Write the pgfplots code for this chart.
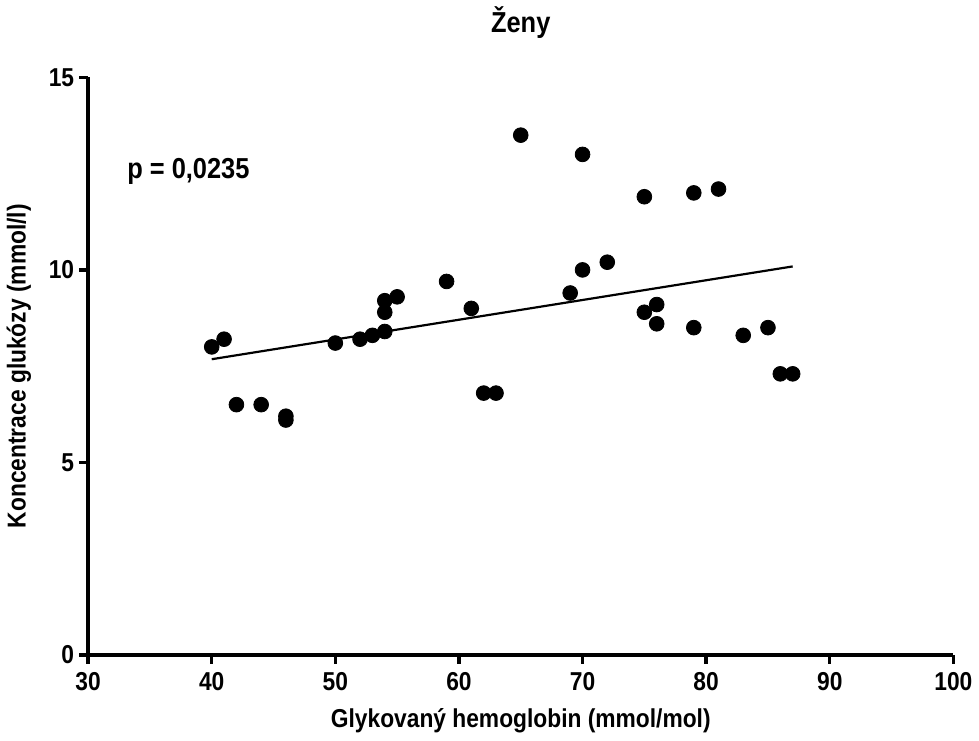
\documentclass[border=0pt]{standalone}
\usepackage{pgfplots}
\pgfplotsset{compat=1.18}
\usepackage{fontspec}
\setmainfont[FakeStretch=0.88]{Liberation Sans}
\begin{document}
\begin{tikzpicture}
\begin{axis}[
    scale only axis,
    width=434.5pt, height=290pt,
    xmin=30, xmax=100, ymin=0, ymax=15,
    axis x line*=bottom, axis y line*=left,
    axis line style={line width=1.7pt},
    xtick={30,40,...,100}, ytick={0,5,10,15},
    tick align=outside,
    major tick length=4.5pt,
    tick style={line width=1.7pt, black},
    /pgf/number format/assume math mode=true,
    ticklabel style={font=\fontsize{13}{15}\selectfont\bfseries},
    xticklabel style={yshift=-1pt},
    yticklabel style={xshift=1pt},
    xlabel={Glykovaný hemoglobin (mmol/mol)},
    ylabel={Koncentrace glukózy (mmol/l)},
    label style={font=\fontsize{13}{15}\selectfont\bfseries},
    xlabel style={yshift=-2pt},
    ylabel style={yshift=2pt},
    title={Ženy},
    title style={font=\fontsize{14.5}{17}\selectfont\bfseries, yshift=10pt},
    clip=false,
]
\addplot[only marks, mark=*, mark size=3.7pt, black] coordinates {
(40,8.0) (41,8.2) (42,6.5) (44,6.5) (46,6.2) (46,6.1)
(50,8.1) (52,8.2) (53,8.3) (54,8.4) (54,8.9) (54,9.2) (55,9.3)
(59,9.7) (61,9.0) (62,6.8) (63,6.8) (65,13.5) (69,9.4) (70,10.0)
(70,13.0) (72,10.2) (75,11.9) (75,8.9) (76,9.1) (76,8.6)
(79,12.0) (79,8.5) (81,12.1) (83,8.3) (85,8.5) (86,7.3) (87,7.3)
};
\addplot[black, line width=1.1pt] coordinates {(40,7.68) (87,10.09)};
\node[anchor=west, font=\fontsize{14.5}{17}\selectfont\bfseries] at (axis cs:32.6,12.55) {p = 0,0235};
\end{axis}
\end{tikzpicture}
\end{document}
